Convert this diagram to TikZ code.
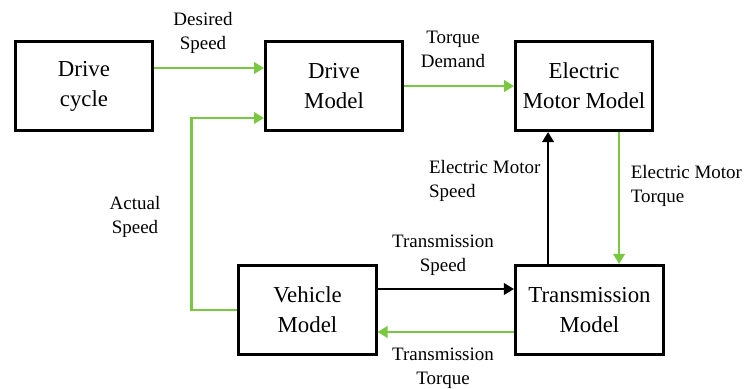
\documentclass[tikz,border=0pt]{standalone}
\usepackage{fontspec}
\setmainfont{Liberation Serif}
\usepackage{xcolor}
\usetikzlibrary{arrows.meta,positioning,calc}
\definecolor{sigGreen}{RGB}{122,200,66}

\begin{document}
\begin{tikzpicture}[
        node distance=3.3cm,
        block/.style={draw, line width=2.3pt, align=center, minimum width=4.12cm, minimum height=2.68cm, font=\fontsize{19.5}{25.5}\selectfont},
        lbl/.style={align=center, font=\fontsize{16.2}{20.5}\selectfont},
        line/.style={-{Triangle[length=0.3cm,width=0.34cm]}, line width=2.4pt},
        gline/.style={line, sigGreen}
    ]
        \useasboundingbox (0,0) rectangle (22.41,11.67);
        \node[block] (dc) at (2.52,9.09) {Drive\\cycle};
        \node[block, right=of dc] (dm) {Drive\\Model};
        \node[block, right=of dm] (emm) {Electric\\Motor Model};
        \node[block] (veh) at (9.225,2.37) {Vehicle\\Model};
        \node[block, minimum width=4.45cm] (tr) at (17.685,2.37) {Transmission\\Model};
        \node[lbl] (desspd) at (6.09,10.68) {Desired\\Speed};
        \node[lbl] (trqdem) at (13.59,10.2) {Torque\\Demand};
        \node[lbl, align=left, anchor=west] (emspd) at (12.75,6.24) {Electric Motor\\Speed};
        \node[lbl, align=left, anchor=west] (emtrq) at (18.8,6.09) {Electric Motor\\Torque};
        \node[lbl] (actspd) at (4.05,5.16) {Actual\\Speed};
        \node[lbl] (trspd) at (13.29,4.02) {Transmission\\Speed};
        \node[lbl] (trtrq) at (13.29,0.63) {Transmission\\Torque};
        \draw[gline] ([yshift=0.54cm]dc.east) -- ([yshift=0.54cm]dm.west);
        \draw[gline] (veh.west) -- ++(-1.38,0) |- ([yshift=-0.96cm]dm.west);
        \draw[gline] (dm.east) -- (emm.west);
        \draw[gline] ([xshift=1.05cm]emm.south) -- ([xshift=1.05cm]emm.south |- tr.north);
        \draw[line] ([xshift=-1.08cm]emm.south |- tr.north) -- ([xshift=-1.08cm]emm.south);
        \draw[line] ([yshift=0.63cm]veh.east) -- ([yshift=0.63cm]tr.west);
        \draw[gline] ([yshift=-0.66cm]tr.west) -- ([yshift=-0.66cm]veh.east);
    \end{tikzpicture}
\end{document}
